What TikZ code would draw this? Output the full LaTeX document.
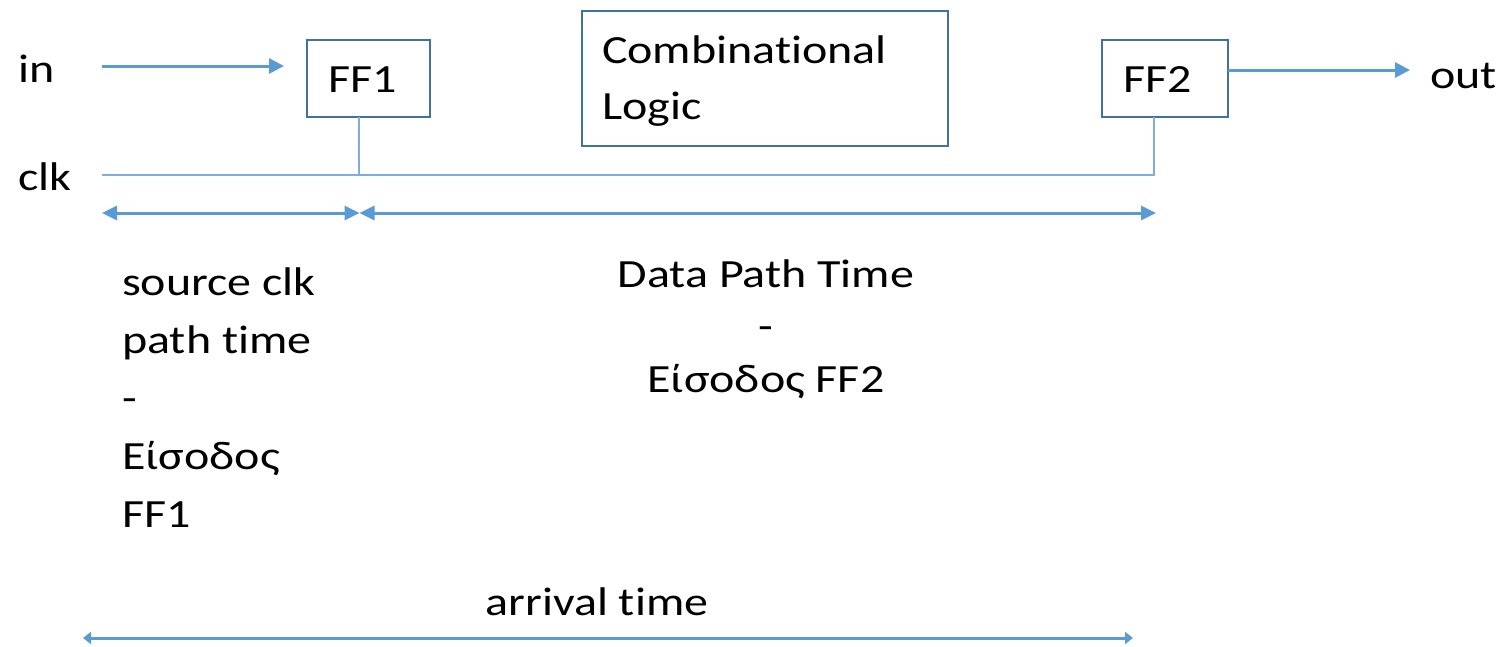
\documentclass[tikz,border=0pt]{standalone}
\usepackage{fontspec}
\setmainfont{Carlito}[FakeStretch=1.2, Ligatures=NoCommon]
\usetikzlibrary{arrows.meta}
\definecolor{lineblue}{HTML}{5B9BD5}
\definecolor{boxblue}{HTML}{41719C}
\definecolor{clkblue}{HTML}{7FAEDD}
\tikzset{
  lbl/.style={inner sep=0pt, anchor=base west, font=\fontsize{40}{58}\selectfont},
  ffbox/.style={draw=boxblue, line width=2pt, fill=white, inner ysep=0pt, inner xsep=21pt,
    text height=27pt, text depth=0pt, align=left, font=\fontsize{40}{56}\selectfont},
  sig/.style={draw=lineblue, line width=3pt, -{Triangle[length=15pt,width=15pt]}},
  dbl/.style={draw=lineblue, line width=3pt, {Triangle[length=15pt,width=14pt]}-{Triangle[length=15pt,width=14pt]}},
  dblsmall/.style={draw=lineblue, line width=3pt, {Triangle[length=8pt,width=12pt]}-{Triangle[length=8pt,width=12pt]}},
  clkline/.style={draw=clkblue, line width=1.5pt}
}
\begin{document}
\begin{tikzpicture}[x=1pt,y=-1pt]
\useasboundingbox[fill=white] (0,0) rectangle (1504,646);
% boxes
\node[ffbox, minimum width=123pt, minimum height=77pt, text width=81pt] (ff1) at (368.5,78.5) {FF1};
\node[ffbox, minimum width=126pt, minimum height=77pt, text width=84pt] (ff2) at (1165,78.5) {FF2};
\node[draw=boxblue, line width=2pt, minimum width=366pt, minimum height=135pt, text width=326pt,
  inner xsep=20pt, align=left, font=\fontsize{40}{56}\selectfont] (cl) at (765,78.5) {\rule{0pt}{33pt}Combinational\\Logic};
% labels
\node[lbl] (in) at (18,82) {in};
\node[lbl] (clk) at (18,190) {clk};
\node[lbl] (out) at (1430,88) {out};
% signal arrows
\coordinate (inS) at (102,66);
\coordinate (inE) at (284,66);
\draw[sig] (inS) -- (inE);
\coordinate (outS) at (1228,70);
\coordinate (outE) at (1410,70);
\draw[sig] (outS) -- (outE);
% clock
\coordinate (clkS) at (102,175);
\coordinate (c1) at (359,175);
\coordinate (c1t) at (359,117);
\coordinate (c2) at (1154,175);
\coordinate (c2t) at (1154,117);
\draw[clkline] (clkS) -- (c2) -- (c2t);
\draw[clkline] (c1t) -- (c1);
% timing arrows
\coordinate (t1a) at (102,213);
\coordinate (t1b) at (359.5,213);
\coordinate (t2a) at (359.5,213);
\coordinate (t2b) at (1156,213);
\draw[dbl] (t1a) -- (t1b);
\draw[dbl] (t2a) -- (t2b);
\coordinate (t3a) at (83,638);
\coordinate (t3b) at (1133,638);
\draw[dblsmall] (t3a) -- (t3b);
% texts
\node[lbl, align=left] (src) at (122,527) {source clk\\path time\\-\\Είσοδος\\FF1};
\node[inner sep=0pt, anchor=base, align=center, font=\fontsize{40}{52.5}\selectfont] (dp) at (766,392) {Data Path Time\\-\\Είσοδος FF2};
\node[inner sep=0pt, anchor=base, font=\fontsize{40}{52}\selectfont] (arr) at (597,615) {arrival time};
\end{tikzpicture}
\end{document}
